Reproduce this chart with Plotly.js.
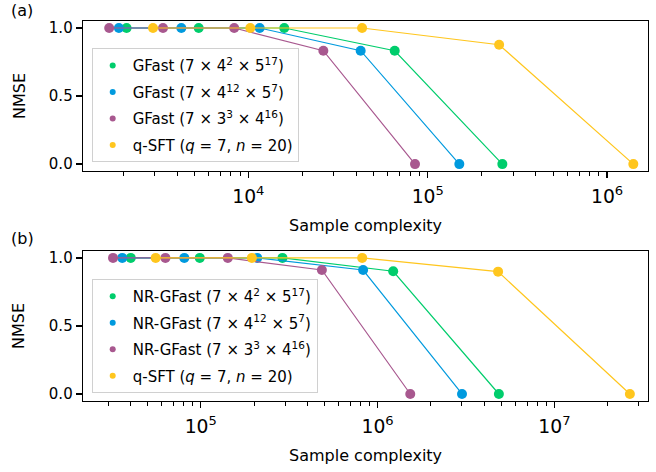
<!DOCTYPE html>
<html>
<head>
<meta charset="utf-8">
<script src="https://cdn.plot.ly/plotly-3.0.1.min.js"></script>
<style>html,body{margin:0;padding:0;background:#fff;}#chart{width:656px;height:472px;}</style>
</head>
<body>
<div id="chart"></div>
<script>
// ---- Data ----
const seriesNamesA = ["GFast (7 × 4<sup>2</sup> × 5<sup>17</sup>)", "GFast (7 × 4<sup>12</sup> × 5<sup>7</sup>)", "GFast (7 × 3<sup>3</sup> × 4<sup>16</sup>)", "q-SFT (<i>q</i> = 7, <i>n</i> = 20)"];
const seriesNamesB = ["NR-GFast (7 × 4<sup>2</sup> × 5<sup>17</sup>)", "NR-GFast (7 × 4<sup>12</sup> × 5<sup>7</sup>)", "NR-GFast (7 × 3<sup>3</sup> × 4<sup>16</sup>)", "q-SFT (<i>q</i> = 7, <i>n</i> = 20)"];

// Panel (a)
const aGreenX  = [2094, 5285, 15850, 65450, 260600];
const aGreenY  = [1, 1, 1, 0.833, 0];
const aBlueX   = [1897, 4228, 11560, 42270, 150000];
const aBlueY   = [1, 1, 1, 0.833, 0];
const aPurpleX = [1675, 3342, 8337, 26180, 84900];
const aPurpleY = [1, 1, 1, 0.833, 0];
const aYellowX = [2939, 10250, 43050, 250000, 1400000];
const aYellowY = [1, 1, 1, 0.877, 0];

// Panel (b)
const bGreenX  = [40180, 98700, 289700, 1225000, 4850000];
const bGreenY  = [1, 1, 1, 0.902, 0];
const bBlueX   = [35970, 80700, 208500, 828000, 3000000];
const bBlueY   = [1, 1, 1, 0.911, 0];
const bPurpleX = [31900, 63100, 142200, 484000, 1530000];
const bPurpleY = [1, 1, 1, 0.911, 0];
const bYellowX = [55600, 194500, 818000, 4800000, 26700000];
const bYellowY = [1, 1, 1, 0.899, 0];

const yTickVals = [0, 0.5, 1.0];

// ---- Styles ----
const colors = ["#00CD6C", "#009ADE", "#A8588F", "#FFC61E"];
const FONT = "DejaVu Sans, sans-serif";

function lineTrace(x, y, c, xa, ya) {
  return {x: x, y: y, type: "scatter", mode: "lines+markers", xaxis: xa, yaxis: ya,
    line: {color: c, width: 1.2}, marker: {color: c, size: 10}, showlegend: false, hoverinfo: "x+y"};
}
function legendTrace(name, c, xa, ya, lg, grp) {
  return {x: [null], y: [null], type: "scatter", mode: "markers", xaxis: xa, yaxis: ya,
    name: name, legend: lg, legendgroup: grp, marker: {color: c, size: 6}, showlegend: true};
}

const data = [
  lineTrace(aGreenX, aGreenY, colors[0], "x", "y"),
  lineTrace(aBlueX, aBlueY, colors[1], "x", "y"),
  lineTrace(aPurpleX, aPurpleY, colors[2], "x", "y"),
  lineTrace(aYellowX, aYellowY, colors[3], "x", "y"),
  lineTrace(bGreenX, bGreenY, colors[0], "x2", "y2"),
  lineTrace(bBlueX, bBlueY, colors[1], "x2", "y2"),
  lineTrace(bPurpleX, bPurpleY, colors[2], "x2", "y2"),
  lineTrace(bYellowX, bYellowY, colors[3], "x2", "y2"),
];
for (let i = 0; i < 4; i++) data.push(legendTrace(seriesNamesA[i], colors[i], "x", "y", "legend", "a" + i));
for (let i = 0; i < 4; i++) data.push(legendTrace(seriesNamesB[i], colors[i], "x2", "y2", "legend2", "b" + i));

const xBase = {
  type: "log", dtick: 1, exponentformat: "power", showexponent: "all",
  showgrid: false, zeroline: false, showline: true, mirror: true,
  linecolor: "black", linewidth: 1.3, ticks: "outside", ticklen: 6, tickwidth: 1.2, tickcolor: "black",
  ticklabelstandoff: 3,
  tickfont: {family: FONT, size: 15, color: "black"},
  minor: {ticks: "outside", ticklen: 3.5, tickwidth: 1, tickcolor: "black", dtick: "D1", showgrid: false}
};
const yBase = {
  range: [-0.0515, 1.0515], tickvals: yTickVals, tickformat: ".1f",
  showgrid: false, zeroline: false, showline: true, mirror: true,
  linecolor: "black", linewidth: 1.3, ticks: "outside", ticklen: 6, tickwidth: 1.2, tickcolor: "black",
  tickfont: {family: FONT, size: 15, color: "black"}
};
const legBase = {
  xanchor: "left", yanchor: "top", bgcolor: "rgba(255,255,255,0.85)", tracegroupgap: 4,
  bordercolor: "#d0d0d0", borderwidth: 1, font: {family: FONT, size: 15, color: "black"}
};

const layout = {
  width: 656, height: 472,
  margin: {l: 83, r: 8, t: 21, b: 71},
  paper_bgcolor: "white", plot_bgcolor: "white",
  font: {family: FONT, size: 15, color: "black"},
  xaxis: Object.assign({}, xBase, {domain: [0, 1], anchor: "y", range: [3.078, 6.228]}),
  yaxis: Object.assign({}, yBase, {domain: [0.605, 1], anchor: "x"}),
  xaxis2: Object.assign({}, xBase, {domain: [0, 1], anchor: "y2", range: [4.334, 7.529]}),
  yaxis2: Object.assign({}, yBase, {domain: [0, 0.395], anchor: "x2"}),
  legend: Object.assign({}, legBase, {x: 0.0154, y: 0.928}),
  legend2: Object.assign({}, legBase, {x: 0.0154, y: 0.321}),
  showlegend: true,
  annotations: [
    {text: "(a)", xref: "paper", yref: "paper", x: 0, y: 1, xshift: -61, yshift: 11, showarrow: false, xanchor: "center", yanchor: "middle", font: {family: FONT, size: 16}},
    {text: "(b)", xref: "paper", yref: "paper", x: 0, y: 0.395, xshift: -61, yshift: 12, showarrow: false, xanchor: "center", yanchor: "middle", font: {family: FONT, size: 16}},
    {text: "Sample complexity", xref: "paper", yref: "paper", x: 0.5, y: 0.605, yshift: -54, showarrow: false, xanchor: "center", yanchor: "middle", font: {family: FONT, size: 16}},
    {text: "Sample complexity", xref: "paper", yref: "paper", x: 0.5, y: 0, yshift: -54, showarrow: false, xanchor: "center", yanchor: "middle", font: {family: FONT, size: 16}},
    {text: "NMSE", xref: "paper", yref: "paper", x: 0, y: 0.8025, xshift: -64, textangle: -90, showarrow: false, xanchor: "center", yanchor: "middle", font: {family: FONT, size: 16}},
    {text: "NMSE", xref: "paper", yref: "paper", x: 0, y: 0.1975, xshift: -64, textangle: -90, showarrow: false, xanchor: "center", yanchor: "middle", font: {family: FONT, size: 16}}
  ]
};

Plotly.newPlot("chart", data, layout, {displayModeBar: false, staticPlot: true});
</script>
</body>
</html>
